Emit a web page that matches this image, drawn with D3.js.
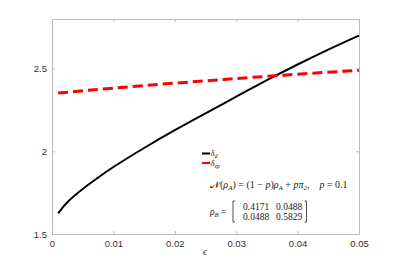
<!DOCTYPE html>
<html>
<head>
<meta charset="utf-8">
<script src="https://cdn.jsdelivr.net/npm/d3@7"></script>
<style>
body { margin: 0; background: #fff; }
</style>
</head>
<body>
<div id="chart"></div>
<script>
// epsilon values and the two curves
var epsD = [ 0.001, 0.0025, 0.005, 0.0075, 0.01, 0.015, 0.02, 0.025, 0.03, 0.035, 0.04, 0.045, 0.05 ];
var deltaD = [ 1.625, 1.692, 1.772, 1.841, 1.905, 2.02, 2.128, 2.23, 2.33, 2.43, 2.525, 2.615, 2.70 ];
var epsEp = [ 0.001, 0.01, 0.02, 0.03, 0.04, 0.05 ];
var deltaEp = [ 2.352, 2.382, 2.412, 2.440, 2.466, 2.490 ];
var xTicks = [ 0, 0.01, 0.02, 0.03, 0.04, 0.05 ];
var yTicks = [ 1.5, 2, 2.5 ];

var W = 397, H = 264;
var mLeft = 52, mRight = 359, mTop = 19, mBottom = 234;
var sans = '"Liberation Sans", Arial, sans-serif';
var serif = '"Liberation Serif", "DejaVu Serif", serif';

var svg = d3.select( '#chart' ).append( 'svg' )
    .attr( 'width', W ).attr( 'height', H );

var x = d3.scaleLinear().domain( [ 0, 0.05 ] ).range( [ mLeft, mRight ] );
var y = d3.scaleLinear().domain( [ 1.5, 2.8 ] ).range( [ mBottom, mTop ] );

// axes box with inward ticks on all sides
var fmt = function( d ){ return d === 0 ? '0' : String( d ); };
function styleAxis( g ){
    g.selectAll( 'path' ).attr( 'stroke', '#bdbdbd' );
    g.selectAll( 'line' ).attr( 'stroke', '#bdbdbd' );
    g.selectAll( 'text' ).attr( 'fill', '#333' ).style( 'font-size', '9.5px' ).style( 'font-family', sans );
}
svg.append( 'g' ).attr( 'transform', 'translate(0,' + mBottom + ')' )
    .call( d3.axisBottom( x ).tickValues( xTicks ).tickFormat( fmt ).tickSizeInner( -3 ).tickSizeOuter( 0 ).tickPadding( 6 ) )
    .call( styleAxis );
svg.append( 'g' ).attr( 'transform', 'translate(0,' + mTop + ')' )
    .call( d3.axisTop( x ).tickValues( xTicks ).tickFormat( '' ).tickSizeInner( -3 ).tickSizeOuter( 0 ) )
    .call( styleAxis );
svg.append( 'g' ).attr( 'transform', 'translate(' + mLeft + ',0)' )
    .call( d3.axisLeft( y ).tickValues( yTicks ).tickFormat( fmt ).tickSizeInner( -3 ).tickSizeOuter( 0 ).tickPadding( 5 ) )
    .call( styleAxis );
svg.append( 'g' ).attr( 'transform', 'translate(' + mRight + ',0)' )
    .call( d3.axisRight( y ).tickValues( yTicks ).tickFormat( '' ).tickSizeInner( -3 ).tickSizeOuter( 0 ) )
    .call( styleAxis );

// curves
var lineD = d3.line().curve( d3.curveNatural )
    .x( function( d, i ){ return x( epsD[ i ] ); } )
    .y( function( d ){ return y( d ); } );
var lineEp = d3.line().curve( d3.curveNatural )
    .x( function( d, i ){ return x( epsEp[ i ] ); } )
    .y( function( d ){ return y( d ); } );

svg.append( 'path' ).attr( 'd', lineD( deltaD ) )
    .attr( 'fill', 'none' ).attr( 'stroke', '#000' ).attr( 'stroke-width', 2 );
svg.append( 'path' ).attr( 'd', lineEp( deltaEp ) )
    .attr( 'fill', 'none' ).attr( 'stroke', '#f00' ).attr( 'stroke-width', 3 )
    .attr( 'stroke-dasharray', '10,5' );

// x label
svg.append( 'text' ).attr( 'x', 205 ).attr( 'y', 255 )
    .attr( 'text-anchor', 'middle' ).style( 'font-family', serif ).style( 'font-style', 'italic' )
    .style( 'font-size', '10px' ).attr( 'fill', '#333' ).text( 'ϵ' );

// math-like text with subscripts; parts are [text, italic, subscript]
function mathText( parent, px, py, size, parts ){
    var t = parent.append( 'text' ).attr( 'x', px ).attr( 'y', py )
        .style( 'font-family', serif ).style( 'font-size', size + 'px' ).attr( 'fill', '#222' );
    var shift = 0;
    parts.forEach( function( p ){
        t.append( 'tspan' ).attr( 'dy', -shift ).style( 'font-style', p[ 1 ] ? 'italic' : 'normal' ).text( p[ 0 ] );
        shift = 0;
        if ( p[ 2 ] ) {
            t.append( 'tspan' ).attr( 'dy', 2.2 ).style( 'font-size', ( size * 0.7 ) + 'px' ).style( 'font-style', 'italic' ).text( p[ 2 ] );
            shift = 2.2;
        }
    } );
    return t;
}

// legend
var legend = [ { c: '#000', s: 'd', yy: 153.5 }, { c: '#f00', s: 'ep', yy: 163 } ];
legend.forEach( function( d ){
    svg.append( 'line' ).attr( 'x1', 202 ).attr( 'x2', 210 ).attr( 'y1', d.yy ).attr( 'y2', d.yy )
        .attr( 'stroke', d.c ).attr( 'stroke-width', 2 );
    mathText( svg, 210.5, d.yy + 2.5, 8.5, [ [ 'δ', true, d.s ] ] );
} );

// channel formula
mathText( svg, 210, 188, 10, [
    [ '𝒩', false ], [ '(', false ], [ 'ρ', true, 'A' ], [ ') = (1 − ', false ],
    [ 'p', true ], [ ')', false ], [ 'ρ', true, 'A' ], [ ' + ', false ],
    [ 'pπ', true, '2' ], [ ',\u2003', false ], [ 'p', true ], [ ' = 0.1', false ]
] );

// rho_B matrix
var m = [ [ '0.4171', '0.0488' ], [ '0.0488', '0.5829' ] ];
mathText( svg, 210, 215, 9.5, [ [ 'ρ', true, 'B' ], [ ' =', false ] ] );
svg.append( 'path' ).attr( 'd', 'M235,201 h-2 v21 h2' ).attr( 'fill', 'none' ).attr( 'stroke', '#222' ).attr( 'stroke-width', 0.8 );
svg.append( 'path' ).attr( 'd', 'M304.5,201 h2 v21 h-2' ).attr( 'fill', 'none' ).attr( 'stroke', '#222' ).attr( 'stroke-width', 0.8 );
m.forEach( function( row, i ){
    row.forEach( function( v, j ){
        svg.append( 'text' ).attr( 'x', 243 + j * 33 ).attr( 'y', 209.5 + i * 10.5 )
            .style( 'font-family', serif ).style( 'font-size', '9.5px' ).attr( 'fill', '#222' ).text( v );
    } );
} );
</script>
</body>
</html>
